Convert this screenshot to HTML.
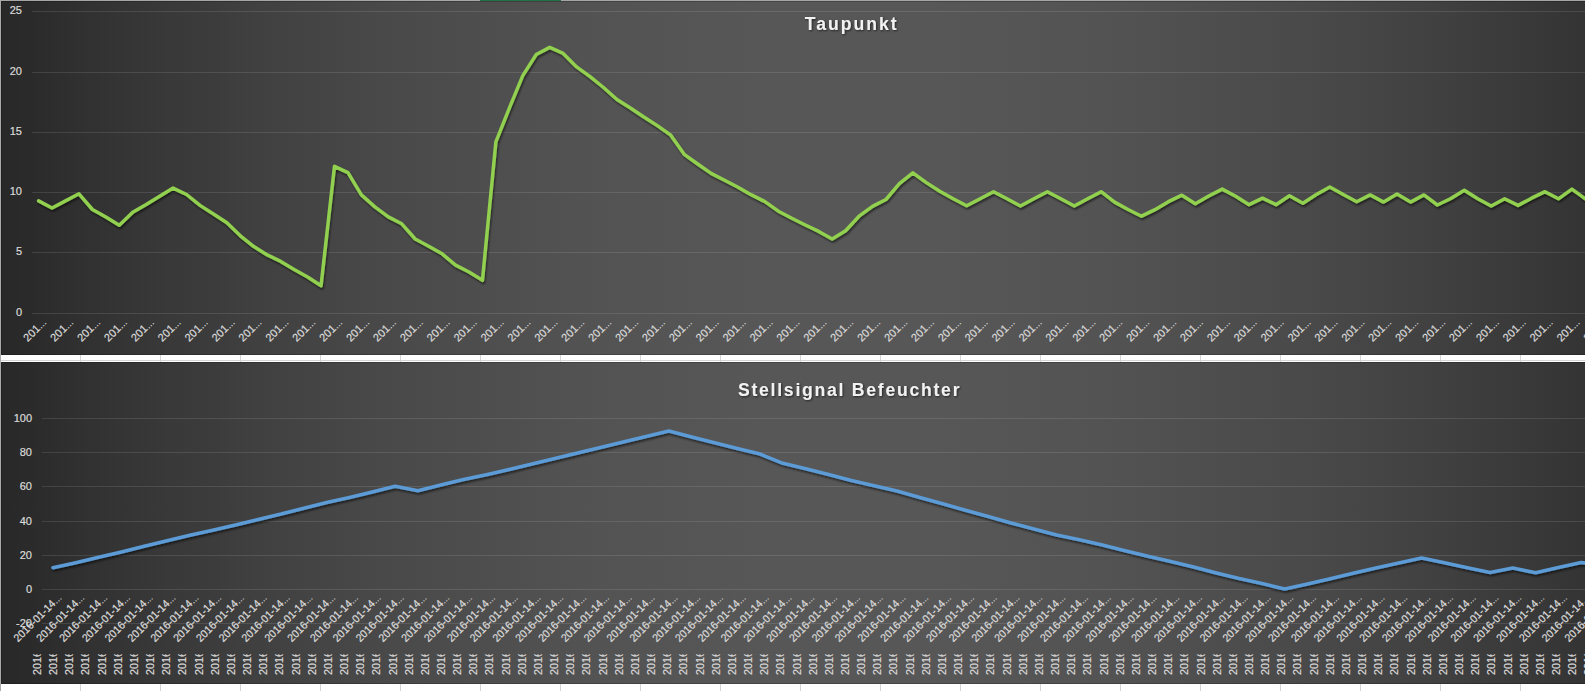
<!DOCTYPE html>
<html><head><meta charset="utf-8"><title>Taupunkt / Stellsignal Befeuchter</title>
<style>
html,body{margin:0;padding:0;background:#fff;}
body{width:1585px;height:691px;overflow:hidden;position:relative;font-family:'Liberation Sans', Arial, sans-serif;}
svg{position:absolute;left:0;top:0;display:block;}
svg text{font-family:'Liberation Sans', Arial, sans-serif;}
</style></head><body>
<svg width="1585" height="691" viewBox="0 0 1585 691">
<defs>
<linearGradient id="bg" gradientUnits="userSpaceOnUse" x1="1" y1="0" x2="1698" y2="0">
<stop offset="0.0000" stop-color="#282828"/>
<stop offset="0.0250" stop-color="#2c2c2c"/>
<stop offset="0.0500" stop-color="#313131"/>
<stop offset="0.0750" stop-color="#353535"/>
<stop offset="0.1000" stop-color="#393939"/>
<stop offset="0.1250" stop-color="#3c3c3c"/>
<stop offset="0.1500" stop-color="#404040"/>
<stop offset="0.1750" stop-color="#434343"/>
<stop offset="0.2000" stop-color="#464646"/>
<stop offset="0.2250" stop-color="#494949"/>
<stop offset="0.2500" stop-color="#4b4b4b"/>
<stop offset="0.2750" stop-color="#4d4d4d"/>
<stop offset="0.3000" stop-color="#4f4f4f"/>
<stop offset="0.3250" stop-color="#515151"/>
<stop offset="0.3500" stop-color="#535353"/>
<stop offset="0.3750" stop-color="#545454"/>
<stop offset="0.4000" stop-color="#555555"/>
<stop offset="0.4250" stop-color="#565656"/>
<stop offset="0.4500" stop-color="#575757"/>
<stop offset="0.4750" stop-color="#575757"/>
<stop offset="0.5000" stop-color="#575757"/>
<stop offset="0.5250" stop-color="#575757"/>
<stop offset="0.5500" stop-color="#575757"/>
<stop offset="0.5750" stop-color="#565656"/>
<stop offset="0.6000" stop-color="#555555"/>
<stop offset="0.6250" stop-color="#545454"/>
<stop offset="0.6500" stop-color="#535353"/>
<stop offset="0.6750" stop-color="#515151"/>
<stop offset="0.7000" stop-color="#4f4f4f"/>
<stop offset="0.7250" stop-color="#4d4d4d"/>
<stop offset="0.7500" stop-color="#4b4b4b"/>
<stop offset="0.7750" stop-color="#494949"/>
<stop offset="0.8000" stop-color="#464646"/>
<stop offset="0.8250" stop-color="#434343"/>
<stop offset="0.8500" stop-color="#404040"/>
<stop offset="0.8750" stop-color="#3c3c3c"/>
<stop offset="0.9000" stop-color="#393939"/>
<stop offset="0.9250" stop-color="#353535"/>
<stop offset="0.9500" stop-color="#313131"/>
<stop offset="0.9750" stop-color="#2c2c2c"/>
<stop offset="1.0000" stop-color="#282828"/>
</linearGradient>
<filter id="sh" x="-5%" y="-20%" width="110%" height="140%">
<feGaussianBlur in="SourceAlpha" stdDeviation="1.2"/>
<feOffset dx="0.8" dy="1.6" result="b"/>
<feComponentTransfer><feFuncA type="linear" slope="0.55"/></feComponentTransfer>
<feMerge><feMergeNode/><feMergeNode in="SourceGraphic"/></feMerge>
</filter>
<filter id="tsh" x="-10%" y="-30%" width="120%" height="160%">
<feGaussianBlur in="SourceAlpha" stdDeviation="0.8"/>
<feOffset dx="0.7" dy="1.2" result="b"/>
<feComponentTransfer><feFuncA type="linear" slope="0.6"/></feComponentTransfer>
<feMerge><feMergeNode/><feMergeNode in="SourceGraphic"/></feMerge>
</filter>
<clipPath id="vclip"><rect x="0" y="654.2" width="1585" height="30"/></clipPath>
</defs>

<rect x="0" y="0" width="1585" height="691" fill="#ffffff"/>
<rect x="80" y="355" width="1" height="7" fill="#d4d4d4"/>
<rect x="80" y="684" width="1" height="7" fill="#d4d4d4"/>
<rect x="160" y="355" width="1" height="7" fill="#d4d4d4"/>
<rect x="160" y="684" width="1" height="7" fill="#d4d4d4"/>
<rect x="240" y="355" width="1" height="7" fill="#d4d4d4"/>
<rect x="240" y="684" width="1" height="7" fill="#d4d4d4"/>
<rect x="320" y="355" width="1" height="7" fill="#d4d4d4"/>
<rect x="320" y="684" width="1" height="7" fill="#d4d4d4"/>
<rect x="400" y="355" width="1" height="7" fill="#d4d4d4"/>
<rect x="400" y="684" width="1" height="7" fill="#d4d4d4"/>
<rect x="480" y="355" width="1" height="7" fill="#d4d4d4"/>
<rect x="480" y="684" width="1" height="7" fill="#d4d4d4"/>
<rect x="560" y="355" width="1" height="7" fill="#d4d4d4"/>
<rect x="560" y="684" width="1" height="7" fill="#d4d4d4"/>
<rect x="640" y="355" width="1" height="7" fill="#d4d4d4"/>
<rect x="640" y="684" width="1" height="7" fill="#d4d4d4"/>
<rect x="720" y="355" width="1" height="7" fill="#d4d4d4"/>
<rect x="720" y="684" width="1" height="7" fill="#d4d4d4"/>
<rect x="800" y="355" width="1" height="7" fill="#d4d4d4"/>
<rect x="800" y="684" width="1" height="7" fill="#d4d4d4"/>
<rect x="880" y="355" width="1" height="7" fill="#d4d4d4"/>
<rect x="880" y="684" width="1" height="7" fill="#d4d4d4"/>
<rect x="960" y="355" width="1" height="7" fill="#d4d4d4"/>
<rect x="960" y="684" width="1" height="7" fill="#d4d4d4"/>
<rect x="1040" y="355" width="1" height="7" fill="#d4d4d4"/>
<rect x="1040" y="684" width="1" height="7" fill="#d4d4d4"/>
<rect x="1120" y="355" width="1" height="7" fill="#d4d4d4"/>
<rect x="1120" y="684" width="1" height="7" fill="#d4d4d4"/>
<rect x="1200" y="355" width="1" height="7" fill="#d4d4d4"/>
<rect x="1200" y="684" width="1" height="7" fill="#d4d4d4"/>
<rect x="1280" y="355" width="1" height="7" fill="#d4d4d4"/>
<rect x="1280" y="684" width="1" height="7" fill="#d4d4d4"/>
<rect x="1360" y="355" width="1" height="7" fill="#d4d4d4"/>
<rect x="1360" y="684" width="1" height="7" fill="#d4d4d4"/>
<rect x="1440" y="355" width="1" height="7" fill="#d4d4d4"/>
<rect x="1440" y="684" width="1" height="7" fill="#d4d4d4"/>
<rect x="1520" y="355" width="1" height="7" fill="#d4d4d4"/>
<rect x="1520" y="684" width="1" height="7" fill="#d4d4d4"/>
<rect x="0" y="360" width="1585" height="1" fill="#d4d4d4"/>
<rect x="1" y="1" width="1585" height="354" fill="url(#bg)"/>
<rect x="1" y="1" width="1585" height="1" fill="#000" fill-opacity="0.2"/>
<rect x="1" y="354" width="1585" height="1" fill="#000" fill-opacity="0.2"/>
<rect x="1" y="2" width="1" height="352" fill="#000" fill-opacity="0.2"/>
<rect x="1" y="362" width="1585" height="322" fill="url(#bg)"/>
<rect x="1" y="362" width="1585" height="1" fill="#000" fill-opacity="0.2"/>
<rect x="1" y="683" width="1585" height="1" fill="#000" fill-opacity="0.2"/>
<rect x="1" y="363" width="1" height="320" fill="#000" fill-opacity="0.2"/>
<rect x="32" y="11" width="1585" height="1" fill="#ffffff" fill-opacity="0.11"/>
<rect x="32" y="72" width="1585" height="1" fill="#ffffff" fill-opacity="0.11"/>
<rect x="32" y="132" width="1585" height="1" fill="#ffffff" fill-opacity="0.11"/>
<rect x="32" y="192" width="1585" height="1" fill="#ffffff" fill-opacity="0.11"/>
<rect x="32" y="252" width="1585" height="1" fill="#ffffff" fill-opacity="0.11"/>
<rect x="32" y="313" width="1585" height="1" fill="#ffffff" fill-opacity="0.11"/>
<rect x="42" y="418" width="1585" height="1" fill="#ffffff" fill-opacity="0.11"/>
<rect x="42" y="452" width="1585" height="1" fill="#ffffff" fill-opacity="0.11"/>
<rect x="42" y="486" width="1585" height="1" fill="#ffffff" fill-opacity="0.11"/>
<rect x="42" y="521" width="1585" height="1" fill="#ffffff" fill-opacity="0.11"/>
<rect x="42" y="555" width="1585" height="1" fill="#ffffff" fill-opacity="0.11"/>
<rect x="42" y="589" width="1585" height="1" fill="#ffffff" fill-opacity="0.11"/>
<rect x="42" y="623" width="1585" height="1" fill="#ffffff" fill-opacity="0.11"/>
<g fill="#dadada" stroke="#dadada" stroke-width="0.2" font-size="11" text-anchor="end">
<text x="22" y="13.9">25</text>
<text x="22" y="74.9">20</text>
<text x="22" y="134.9">15</text>
<text x="22" y="194.9">10</text>
<text x="22" y="254.9">5</text>
<text x="22" y="315.9">0</text>
<text x="32" y="421.9">100</text>
<text x="32" y="455.9">80</text>
<text x="32" y="489.9">60</text>
<text x="32" y="524.9">40</text>
<text x="32" y="558.9">20</text>
<text x="32" y="592.9">0</text>
<text x="32" y="626.9">-20</text>
</g>
<g fill="#dadada" stroke="#dadada" stroke-width="0.2" font-size="11" text-anchor="end">
<text transform="translate(47.20,322.9) rotate(-45)">201<tspan font-size="9">…</tspan></text>
<text transform="translate(74.10,322.9) rotate(-45)">201<tspan font-size="9">…</tspan></text>
<text transform="translate(101.00,322.9) rotate(-45)">201<tspan font-size="9">…</tspan></text>
<text transform="translate(127.90,322.9) rotate(-45)">201<tspan font-size="9">…</tspan></text>
<text transform="translate(154.80,322.9) rotate(-45)">201<tspan font-size="9">…</tspan></text>
<text transform="translate(181.70,322.9) rotate(-45)">201<tspan font-size="9">…</tspan></text>
<text transform="translate(208.60,322.9) rotate(-45)">201<tspan font-size="9">…</tspan></text>
<text transform="translate(235.50,322.9) rotate(-45)">201<tspan font-size="9">…</tspan></text>
<text transform="translate(262.40,322.9) rotate(-45)">201<tspan font-size="9">…</tspan></text>
<text transform="translate(289.30,322.9) rotate(-45)">201<tspan font-size="9">…</tspan></text>
<text transform="translate(316.20,322.9) rotate(-45)">201<tspan font-size="9">…</tspan></text>
<text transform="translate(343.10,322.9) rotate(-45)">201<tspan font-size="9">…</tspan></text>
<text transform="translate(370.00,322.9) rotate(-45)">201<tspan font-size="9">…</tspan></text>
<text transform="translate(396.90,322.9) rotate(-45)">201<tspan font-size="9">…</tspan></text>
<text transform="translate(423.80,322.9) rotate(-45)">201<tspan font-size="9">…</tspan></text>
<text transform="translate(450.70,322.9) rotate(-45)">201<tspan font-size="9">…</tspan></text>
<text transform="translate(477.60,322.9) rotate(-45)">201<tspan font-size="9">…</tspan></text>
<text transform="translate(504.50,322.9) rotate(-45)">201<tspan font-size="9">…</tspan></text>
<text transform="translate(531.40,322.9) rotate(-45)">201<tspan font-size="9">…</tspan></text>
<text transform="translate(558.30,322.9) rotate(-45)">201<tspan font-size="9">…</tspan></text>
<text transform="translate(585.20,322.9) rotate(-45)">201<tspan font-size="9">…</tspan></text>
<text transform="translate(612.10,322.9) rotate(-45)">201<tspan font-size="9">…</tspan></text>
<text transform="translate(639.00,322.9) rotate(-45)">201<tspan font-size="9">…</tspan></text>
<text transform="translate(665.90,322.9) rotate(-45)">201<tspan font-size="9">…</tspan></text>
<text transform="translate(692.80,322.9) rotate(-45)">201<tspan font-size="9">…</tspan></text>
<text transform="translate(719.70,322.9) rotate(-45)">201<tspan font-size="9">…</tspan></text>
<text transform="translate(746.60,322.9) rotate(-45)">201<tspan font-size="9">…</tspan></text>
<text transform="translate(773.50,322.9) rotate(-45)">201<tspan font-size="9">…</tspan></text>
<text transform="translate(800.40,322.9) rotate(-45)">201<tspan font-size="9">…</tspan></text>
<text transform="translate(827.30,322.9) rotate(-45)">201<tspan font-size="9">…</tspan></text>
<text transform="translate(854.20,322.9) rotate(-45)">201<tspan font-size="9">…</tspan></text>
<text transform="translate(881.10,322.9) rotate(-45)">201<tspan font-size="9">…</tspan></text>
<text transform="translate(908.00,322.9) rotate(-45)">201<tspan font-size="9">…</tspan></text>
<text transform="translate(934.90,322.9) rotate(-45)">201<tspan font-size="9">…</tspan></text>
<text transform="translate(961.80,322.9) rotate(-45)">201<tspan font-size="9">…</tspan></text>
<text transform="translate(988.70,322.9) rotate(-45)">201<tspan font-size="9">…</tspan></text>
<text transform="translate(1015.60,322.9) rotate(-45)">201<tspan font-size="9">…</tspan></text>
<text transform="translate(1042.50,322.9) rotate(-45)">201<tspan font-size="9">…</tspan></text>
<text transform="translate(1069.40,322.9) rotate(-45)">201<tspan font-size="9">…</tspan></text>
<text transform="translate(1096.30,322.9) rotate(-45)">201<tspan font-size="9">…</tspan></text>
<text transform="translate(1123.20,322.9) rotate(-45)">201<tspan font-size="9">…</tspan></text>
<text transform="translate(1150.10,322.9) rotate(-45)">201<tspan font-size="9">…</tspan></text>
<text transform="translate(1177.00,322.9) rotate(-45)">201<tspan font-size="9">…</tspan></text>
<text transform="translate(1203.90,322.9) rotate(-45)">201<tspan font-size="9">…</tspan></text>
<text transform="translate(1230.80,322.9) rotate(-45)">201<tspan font-size="9">…</tspan></text>
<text transform="translate(1257.70,322.9) rotate(-45)">201<tspan font-size="9">…</tspan></text>
<text transform="translate(1284.60,322.9) rotate(-45)">201<tspan font-size="9">…</tspan></text>
<text transform="translate(1311.50,322.9) rotate(-45)">201<tspan font-size="9">…</tspan></text>
<text transform="translate(1338.40,322.9) rotate(-45)">201<tspan font-size="9">…</tspan></text>
<text transform="translate(1365.30,322.9) rotate(-45)">201<tspan font-size="9">…</tspan></text>
<text transform="translate(1392.20,322.9) rotate(-45)">201<tspan font-size="9">…</tspan></text>
<text transform="translate(1419.10,322.9) rotate(-45)">201<tspan font-size="9">…</tspan></text>
<text transform="translate(1446.00,322.9) rotate(-45)">201<tspan font-size="9">…</tspan></text>
<text transform="translate(1472.90,322.9) rotate(-45)">201<tspan font-size="9">…</tspan></text>
<text transform="translate(1499.80,322.9) rotate(-45)">201<tspan font-size="9">…</tspan></text>
<text transform="translate(1526.70,322.9) rotate(-45)">201<tspan font-size="9">…</tspan></text>
<text transform="translate(1553.60,322.9) rotate(-45)">201<tspan font-size="9">…</tspan></text>
<text transform="translate(1580.50,322.9) rotate(-45)">201<tspan font-size="9">…</tspan></text>
<text transform="translate(1607.40,322.9) rotate(-45)">201<tspan font-size="9">…</tspan></text>
</g>
<g fill="#dadada" stroke="#dadada" stroke-width="0.2" font-size="11" text-anchor="end">
<text transform="translate(62.40,598.2) rotate(-45) scale(0.963,1)">2016-01-14<tspan font-size="9">…</tspan></text>
<text transform="translate(85.21,598.2) rotate(-45) scale(0.963,1)">2016-01-14<tspan font-size="9">…</tspan></text>
<text transform="translate(108.02,598.2) rotate(-45) scale(0.963,1)">2016-01-14<tspan font-size="9">…</tspan></text>
<text transform="translate(130.83,598.2) rotate(-45) scale(0.963,1)">2016-01-14<tspan font-size="9">…</tspan></text>
<text transform="translate(153.64,598.2) rotate(-45) scale(0.963,1)">2016-01-14<tspan font-size="9">…</tspan></text>
<text transform="translate(176.45,598.2) rotate(-45) scale(0.963,1)">2016-01-14<tspan font-size="9">…</tspan></text>
<text transform="translate(199.26,598.2) rotate(-45) scale(0.963,1)">2016-01-14<tspan font-size="9">…</tspan></text>
<text transform="translate(222.07,598.2) rotate(-45) scale(0.963,1)">2016-01-14<tspan font-size="9">…</tspan></text>
<text transform="translate(244.88,598.2) rotate(-45) scale(0.963,1)">2016-01-14<tspan font-size="9">…</tspan></text>
<text transform="translate(267.69,598.2) rotate(-45) scale(0.963,1)">2016-01-14<tspan font-size="9">…</tspan></text>
<text transform="translate(290.50,598.2) rotate(-45) scale(0.963,1)">2016-01-14<tspan font-size="9">…</tspan></text>
<text transform="translate(313.31,598.2) rotate(-45) scale(0.963,1)">2016-01-14<tspan font-size="9">…</tspan></text>
<text transform="translate(336.12,598.2) rotate(-45) scale(0.963,1)">2016-01-14<tspan font-size="9">…</tspan></text>
<text transform="translate(358.93,598.2) rotate(-45) scale(0.963,1)">2016-01-14<tspan font-size="9">…</tspan></text>
<text transform="translate(381.74,598.2) rotate(-45) scale(0.963,1)">2016-01-14<tspan font-size="9">…</tspan></text>
<text transform="translate(404.55,598.2) rotate(-45) scale(0.963,1)">2016-01-14<tspan font-size="9">…</tspan></text>
<text transform="translate(427.36,598.2) rotate(-45) scale(0.963,1)">2016-01-14<tspan font-size="9">…</tspan></text>
<text transform="translate(450.17,598.2) rotate(-45) scale(0.963,1)">2016-01-14<tspan font-size="9">…</tspan></text>
<text transform="translate(472.98,598.2) rotate(-45) scale(0.963,1)">2016-01-14<tspan font-size="9">…</tspan></text>
<text transform="translate(495.79,598.2) rotate(-45) scale(0.963,1)">2016-01-14<tspan font-size="9">…</tspan></text>
<text transform="translate(518.60,598.2) rotate(-45) scale(0.963,1)">2016-01-14<tspan font-size="9">…</tspan></text>
<text transform="translate(541.41,598.2) rotate(-45) scale(0.963,1)">2016-01-14<tspan font-size="9">…</tspan></text>
<text transform="translate(564.22,598.2) rotate(-45) scale(0.963,1)">2016-01-14<tspan font-size="9">…</tspan></text>
<text transform="translate(587.03,598.2) rotate(-45) scale(0.963,1)">2016-01-14<tspan font-size="9">…</tspan></text>
<text transform="translate(609.84,598.2) rotate(-45) scale(0.963,1)">2016-01-14<tspan font-size="9">…</tspan></text>
<text transform="translate(632.65,598.2) rotate(-45) scale(0.963,1)">2016-01-14<tspan font-size="9">…</tspan></text>
<text transform="translate(655.46,598.2) rotate(-45) scale(0.963,1)">2016-01-14<tspan font-size="9">…</tspan></text>
<text transform="translate(678.27,598.2) rotate(-45) scale(0.963,1)">2016-01-14<tspan font-size="9">…</tspan></text>
<text transform="translate(701.08,598.2) rotate(-45) scale(0.963,1)">2016-01-14<tspan font-size="9">…</tspan></text>
<text transform="translate(723.89,598.2) rotate(-45) scale(0.963,1)">2016-01-14<tspan font-size="9">…</tspan></text>
<text transform="translate(746.70,598.2) rotate(-45) scale(0.963,1)">2016-01-14<tspan font-size="9">…</tspan></text>
<text transform="translate(769.51,598.2) rotate(-45) scale(0.963,1)">2016-01-14<tspan font-size="9">…</tspan></text>
<text transform="translate(792.32,598.2) rotate(-45) scale(0.963,1)">2016-01-14<tspan font-size="9">…</tspan></text>
<text transform="translate(815.13,598.2) rotate(-45) scale(0.963,1)">2016-01-14<tspan font-size="9">…</tspan></text>
<text transform="translate(837.94,598.2) rotate(-45) scale(0.963,1)">2016-01-14<tspan font-size="9">…</tspan></text>
<text transform="translate(860.75,598.2) rotate(-45) scale(0.963,1)">2016-01-14<tspan font-size="9">…</tspan></text>
<text transform="translate(883.56,598.2) rotate(-45) scale(0.963,1)">2016-01-14<tspan font-size="9">…</tspan></text>
<text transform="translate(906.37,598.2) rotate(-45) scale(0.963,1)">2016-01-14<tspan font-size="9">…</tspan></text>
<text transform="translate(929.18,598.2) rotate(-45) scale(0.963,1)">2016-01-14<tspan font-size="9">…</tspan></text>
<text transform="translate(951.99,598.2) rotate(-45) scale(0.963,1)">2016-01-14<tspan font-size="9">…</tspan></text>
<text transform="translate(974.80,598.2) rotate(-45) scale(0.963,1)">2016-01-14<tspan font-size="9">…</tspan></text>
<text transform="translate(997.61,598.2) rotate(-45) scale(0.963,1)">2016-01-14<tspan font-size="9">…</tspan></text>
<text transform="translate(1020.42,598.2) rotate(-45) scale(0.963,1)">2016-01-14<tspan font-size="9">…</tspan></text>
<text transform="translate(1043.23,598.2) rotate(-45) scale(0.963,1)">2016-01-14<tspan font-size="9">…</tspan></text>
<text transform="translate(1066.04,598.2) rotate(-45) scale(0.963,1)">2016-01-14<tspan font-size="9">…</tspan></text>
<text transform="translate(1088.85,598.2) rotate(-45) scale(0.963,1)">2016-01-14<tspan font-size="9">…</tspan></text>
<text transform="translate(1111.66,598.2) rotate(-45) scale(0.963,1)">2016-01-14<tspan font-size="9">…</tspan></text>
<text transform="translate(1134.47,598.2) rotate(-45) scale(0.963,1)">2016-01-14<tspan font-size="9">…</tspan></text>
<text transform="translate(1157.28,598.2) rotate(-45) scale(0.963,1)">2016-01-14<tspan font-size="9">…</tspan></text>
<text transform="translate(1180.09,598.2) rotate(-45) scale(0.963,1)">2016-01-14<tspan font-size="9">…</tspan></text>
<text transform="translate(1202.90,598.2) rotate(-45) scale(0.963,1)">2016-01-14<tspan font-size="9">…</tspan></text>
<text transform="translate(1225.71,598.2) rotate(-45) scale(0.963,1)">2016-01-14<tspan font-size="9">…</tspan></text>
<text transform="translate(1248.52,598.2) rotate(-45) scale(0.963,1)">2016-01-14<tspan font-size="9">…</tspan></text>
<text transform="translate(1271.33,598.2) rotate(-45) scale(0.963,1)">2016-01-14<tspan font-size="9">…</tspan></text>
<text transform="translate(1294.14,598.2) rotate(-45) scale(0.963,1)">2016-01-14<tspan font-size="9">…</tspan></text>
<text transform="translate(1316.95,598.2) rotate(-45) scale(0.963,1)">2016-01-14<tspan font-size="9">…</tspan></text>
<text transform="translate(1339.76,598.2) rotate(-45) scale(0.963,1)">2016-01-14<tspan font-size="9">…</tspan></text>
<text transform="translate(1362.57,598.2) rotate(-45) scale(0.963,1)">2016-01-14<tspan font-size="9">…</tspan></text>
<text transform="translate(1385.38,598.2) rotate(-45) scale(0.963,1)">2016-01-14<tspan font-size="9">…</tspan></text>
<text transform="translate(1408.19,598.2) rotate(-45) scale(0.963,1)">2016-01-14<tspan font-size="9">…</tspan></text>
<text transform="translate(1431.00,598.2) rotate(-45) scale(0.963,1)">2016-01-14<tspan font-size="9">…</tspan></text>
<text transform="translate(1453.81,598.2) rotate(-45) scale(0.963,1)">2016-01-14<tspan font-size="9">…</tspan></text>
<text transform="translate(1476.62,598.2) rotate(-45) scale(0.963,1)">2016-01-14<tspan font-size="9">…</tspan></text>
<text transform="translate(1499.43,598.2) rotate(-45) scale(0.963,1)">2016-01-14<tspan font-size="9">…</tspan></text>
<text transform="translate(1522.24,598.2) rotate(-45) scale(0.963,1)">2016-01-14<tspan font-size="9">…</tspan></text>
<text transform="translate(1545.05,598.2) rotate(-45) scale(0.963,1)">2016-01-14<tspan font-size="9">…</tspan></text>
<text transform="translate(1567.86,598.2) rotate(-45) scale(0.963,1)">2016-01-14<tspan font-size="9">…</tspan></text>
<text transform="translate(1590.67,598.2) rotate(-45) scale(0.963,1)">2016-01-14<tspan font-size="9">…</tspan></text>
<text transform="translate(1613.48,598.2) rotate(-45) scale(0.963,1)">2016-01-14<tspan font-size="9">…</tspan></text>
<text transform="translate(1636.29,598.2) rotate(-45) scale(0.963,1)">2016-01-14<tspan font-size="9">…</tspan></text>
</g>
<g fill="#dadada" stroke="#dadada" stroke-width="0.2" font-size="11.6" clip-path="url(#vclip)">
<text transform="translate(41.00,675.0) rotate(-90) scale(0.93,1)">2016-01-14</text>
<text transform="translate(57.16,675.0) rotate(-90) scale(0.93,1)">2016-01-14</text>
<text transform="translate(73.32,675.0) rotate(-90) scale(0.93,1)">2016-01-14</text>
<text transform="translate(89.48,675.0) rotate(-90) scale(0.93,1)">2016-01-14</text>
<text transform="translate(105.64,675.0) rotate(-90) scale(0.93,1)">2016-01-14</text>
<text transform="translate(121.80,675.0) rotate(-90) scale(0.93,1)">2016-01-14</text>
<text transform="translate(137.96,675.0) rotate(-90) scale(0.93,1)">2016-01-14</text>
<text transform="translate(154.12,675.0) rotate(-90) scale(0.93,1)">2016-01-14</text>
<text transform="translate(170.28,675.0) rotate(-90) scale(0.93,1)">2016-01-14</text>
<text transform="translate(186.44,675.0) rotate(-90) scale(0.93,1)">2016-01-14</text>
<text transform="translate(202.60,675.0) rotate(-90) scale(0.93,1)">2016-01-14</text>
<text transform="translate(218.76,675.0) rotate(-90) scale(0.93,1)">2016-01-14</text>
<text transform="translate(234.92,675.0) rotate(-90) scale(0.93,1)">2016-01-14</text>
<text transform="translate(251.08,675.0) rotate(-90) scale(0.93,1)">2016-01-14</text>
<text transform="translate(267.24,675.0) rotate(-90) scale(0.93,1)">2016-01-14</text>
<text transform="translate(283.40,675.0) rotate(-90) scale(0.93,1)">2016-01-14</text>
<text transform="translate(299.56,675.0) rotate(-90) scale(0.93,1)">2016-01-14</text>
<text transform="translate(315.72,675.0) rotate(-90) scale(0.93,1)">2016-01-14</text>
<text transform="translate(331.88,675.0) rotate(-90) scale(0.93,1)">2016-01-14</text>
<text transform="translate(348.04,675.0) rotate(-90) scale(0.93,1)">2016-01-14</text>
<text transform="translate(364.20,675.0) rotate(-90) scale(0.93,1)">2016-01-14</text>
<text transform="translate(380.36,675.0) rotate(-90) scale(0.93,1)">2016-01-14</text>
<text transform="translate(396.52,675.0) rotate(-90) scale(0.93,1)">2016-01-14</text>
<text transform="translate(412.68,675.0) rotate(-90) scale(0.93,1)">2016-01-14</text>
<text transform="translate(428.84,675.0) rotate(-90) scale(0.93,1)">2016-01-14</text>
<text transform="translate(445.00,675.0) rotate(-90) scale(0.93,1)">2016-01-14</text>
<text transform="translate(461.16,675.0) rotate(-90) scale(0.93,1)">2016-01-14</text>
<text transform="translate(477.32,675.0) rotate(-90) scale(0.93,1)">2016-01-14</text>
<text transform="translate(493.48,675.0) rotate(-90) scale(0.93,1)">2016-01-14</text>
<text transform="translate(509.64,675.0) rotate(-90) scale(0.93,1)">2016-01-14</text>
<text transform="translate(525.80,675.0) rotate(-90) scale(0.93,1)">2016-01-14</text>
<text transform="translate(541.96,675.0) rotate(-90) scale(0.93,1)">2016-01-14</text>
<text transform="translate(558.12,675.0) rotate(-90) scale(0.93,1)">2016-01-14</text>
<text transform="translate(574.28,675.0) rotate(-90) scale(0.93,1)">2016-01-14</text>
<text transform="translate(590.44,675.0) rotate(-90) scale(0.93,1)">2016-01-14</text>
<text transform="translate(606.60,675.0) rotate(-90) scale(0.93,1)">2016-01-14</text>
<text transform="translate(622.76,675.0) rotate(-90) scale(0.93,1)">2016-01-14</text>
<text transform="translate(638.92,675.0) rotate(-90) scale(0.93,1)">2016-01-14</text>
<text transform="translate(655.08,675.0) rotate(-90) scale(0.93,1)">2016-01-14</text>
<text transform="translate(671.24,675.0) rotate(-90) scale(0.93,1)">2016-01-14</text>
<text transform="translate(687.40,675.0) rotate(-90) scale(0.93,1)">2016-01-14</text>
<text transform="translate(703.56,675.0) rotate(-90) scale(0.93,1)">2016-01-14</text>
<text transform="translate(719.72,675.0) rotate(-90) scale(0.93,1)">2016-01-14</text>
<text transform="translate(735.88,675.0) rotate(-90) scale(0.93,1)">2016-01-14</text>
<text transform="translate(752.04,675.0) rotate(-90) scale(0.93,1)">2016-01-14</text>
<text transform="translate(768.20,675.0) rotate(-90) scale(0.93,1)">2016-01-14</text>
<text transform="translate(784.36,675.0) rotate(-90) scale(0.93,1)">2016-01-14</text>
<text transform="translate(800.52,675.0) rotate(-90) scale(0.93,1)">2016-01-14</text>
<text transform="translate(816.68,675.0) rotate(-90) scale(0.93,1)">2016-01-14</text>
<text transform="translate(832.84,675.0) rotate(-90) scale(0.93,1)">2016-01-14</text>
<text transform="translate(849.00,675.0) rotate(-90) scale(0.93,1)">2016-01-14</text>
<text transform="translate(865.16,675.0) rotate(-90) scale(0.93,1)">2016-01-14</text>
<text transform="translate(881.32,675.0) rotate(-90) scale(0.93,1)">2016-01-14</text>
<text transform="translate(897.48,675.0) rotate(-90) scale(0.93,1)">2016-01-14</text>
<text transform="translate(913.64,675.0) rotate(-90) scale(0.93,1)">2016-01-14</text>
<text transform="translate(929.80,675.0) rotate(-90) scale(0.93,1)">2016-01-14</text>
<text transform="translate(945.96,675.0) rotate(-90) scale(0.93,1)">2016-01-14</text>
<text transform="translate(962.12,675.0) rotate(-90) scale(0.93,1)">2016-01-14</text>
<text transform="translate(978.28,675.0) rotate(-90) scale(0.93,1)">2016-01-14</text>
<text transform="translate(994.44,675.0) rotate(-90) scale(0.93,1)">2016-01-14</text>
<text transform="translate(1010.60,675.0) rotate(-90) scale(0.93,1)">2016-01-14</text>
<text transform="translate(1026.76,675.0) rotate(-90) scale(0.93,1)">2016-01-14</text>
<text transform="translate(1042.92,675.0) rotate(-90) scale(0.93,1)">2016-01-14</text>
<text transform="translate(1059.08,675.0) rotate(-90) scale(0.93,1)">2016-01-14</text>
<text transform="translate(1075.24,675.0) rotate(-90) scale(0.93,1)">2016-01-14</text>
<text transform="translate(1091.40,675.0) rotate(-90) scale(0.93,1)">2016-01-14</text>
<text transform="translate(1107.56,675.0) rotate(-90) scale(0.93,1)">2016-01-14</text>
<text transform="translate(1123.72,675.0) rotate(-90) scale(0.93,1)">2016-01-14</text>
<text transform="translate(1139.88,675.0) rotate(-90) scale(0.93,1)">2016-01-14</text>
<text transform="translate(1156.04,675.0) rotate(-90) scale(0.93,1)">2016-01-14</text>
<text transform="translate(1172.20,675.0) rotate(-90) scale(0.93,1)">2016-01-14</text>
<text transform="translate(1188.36,675.0) rotate(-90) scale(0.93,1)">2016-01-14</text>
<text transform="translate(1204.52,675.0) rotate(-90) scale(0.93,1)">2016-01-14</text>
<text transform="translate(1220.68,675.0) rotate(-90) scale(0.93,1)">2016-01-14</text>
<text transform="translate(1236.84,675.0) rotate(-90) scale(0.93,1)">2016-01-14</text>
<text transform="translate(1253.00,675.0) rotate(-90) scale(0.93,1)">2016-01-14</text>
<text transform="translate(1269.16,675.0) rotate(-90) scale(0.93,1)">2016-01-14</text>
<text transform="translate(1285.32,675.0) rotate(-90) scale(0.93,1)">2016-01-14</text>
<text transform="translate(1301.48,675.0) rotate(-90) scale(0.93,1)">2016-01-14</text>
<text transform="translate(1317.64,675.0) rotate(-90) scale(0.93,1)">2016-01-14</text>
<text transform="translate(1333.80,675.0) rotate(-90) scale(0.93,1)">2016-01-14</text>
<text transform="translate(1349.96,675.0) rotate(-90) scale(0.93,1)">2016-01-14</text>
<text transform="translate(1366.12,675.0) rotate(-90) scale(0.93,1)">2016-01-14</text>
<text transform="translate(1382.28,675.0) rotate(-90) scale(0.93,1)">2016-01-14</text>
<text transform="translate(1398.44,675.0) rotate(-90) scale(0.93,1)">2016-01-14</text>
<text transform="translate(1414.60,675.0) rotate(-90) scale(0.93,1)">2016-01-14</text>
<text transform="translate(1430.76,675.0) rotate(-90) scale(0.93,1)">2016-01-14</text>
<text transform="translate(1446.92,675.0) rotate(-90) scale(0.93,1)">2016-01-14</text>
<text transform="translate(1463.08,675.0) rotate(-90) scale(0.93,1)">2016-01-14</text>
<text transform="translate(1479.24,675.0) rotate(-90) scale(0.93,1)">2016-01-14</text>
<text transform="translate(1495.40,675.0) rotate(-90) scale(0.93,1)">2016-01-14</text>
<text transform="translate(1511.56,675.0) rotate(-90) scale(0.93,1)">2016-01-14</text>
<text transform="translate(1527.72,675.0) rotate(-90) scale(0.93,1)">2016-01-14</text>
<text transform="translate(1543.88,675.0) rotate(-90) scale(0.93,1)">2016-01-14</text>
<text transform="translate(1560.04,675.0) rotate(-90) scale(0.93,1)">2016-01-14</text>
<text transform="translate(1576.20,675.0) rotate(-90) scale(0.93,1)">2016-01-14</text>
<text transform="translate(1592.36,675.0) rotate(-90) scale(0.93,1)">2016-01-14</text>
</g>
<polyline points="38.60,200.90 52.05,208.00 65.50,200.90 78.95,193.80 92.40,209.50 105.85,217.10 119.30,225.20 132.75,212.20 146.20,204.50 159.65,196.30 173.10,188.10 186.55,194.50 200.00,205.40 213.45,214.00 226.90,222.70 240.35,235.80 253.80,246.60 267.25,254.90 280.70,261.40 294.15,269.40 307.60,277.00 321.05,285.70 334.50,166.30 347.95,172.60 361.40,194.90 374.85,206.90 388.30,216.90 401.75,223.80 415.20,239.00 428.65,246.20 442.10,253.80 455.55,265.10 469.00,272.00 482.45,280.30 495.90,141.80 509.35,108.20 522.80,75.60 536.25,54.50 549.70,47.40 563.15,53.40 576.60,66.90 590.05,76.70 603.50,87.50 616.95,99.50 630.40,108.00 643.85,117.00 657.30,125.60 670.75,135.20 684.20,154.30 697.65,164.00 711.10,173.40 724.55,180.30 738.00,187.30 751.45,194.90 764.90,201.60 778.35,211.20 791.80,218.30 805.25,225.00 818.70,231.40 832.15,239.00 845.60,230.80 859.05,216.20 872.50,206.40 885.95,199.50 899.40,183.70 912.85,172.80 926.30,182.60 939.75,191.30 953.20,198.80 966.65,205.70 980.10,198.80 993.55,191.70 1007.00,198.80 1020.45,206.00 1033.90,198.80 1047.35,191.70 1060.80,198.80 1074.25,206.00 1087.70,198.80 1101.15,191.70 1114.60,202.10 1128.05,209.50 1141.50,216.20 1154.95,209.70 1168.40,201.70 1181.85,195.20 1195.30,203.80 1208.75,196.00 1222.20,189.10 1235.65,196.20 1249.10,204.70 1262.55,198.20 1276.00,204.70 1289.45,195.80 1302.90,203.20 1316.35,194.50 1329.80,186.90 1343.25,194.50 1356.70,201.70 1370.15,194.90 1383.60,202.10 1397.05,194.10 1410.50,202.10 1423.95,194.90 1437.40,205.00 1450.85,198.50 1464.30,190.20 1477.75,198.80 1491.20,206.00 1504.65,198.80 1518.10,205.40 1531.55,198.20 1545.00,191.70 1558.45,198.80 1571.90,189.10 1585.35,198.80 1598.80,204.00" fill="none" stroke="#92d050" stroke-width="3.5" stroke-linejoin="round" stroke-linecap="round" filter="url(#sh)"/>
<polyline points="53.00,567.70 75.81,562.70 98.62,557.30 121.43,552.00 144.24,546.30 167.05,540.70 189.86,535.30 212.67,530.30 235.48,524.90 258.29,519.40 281.10,514.10 303.91,508.20 326.72,502.50 349.53,497.50 372.34,492.00 395.15,486.20 417.96,490.70 440.77,485.10 463.58,479.60 486.39,474.70 509.20,469.50 532.01,463.90 554.82,458.50 577.63,453.10 600.44,447.50 623.25,441.90 646.06,436.50 668.87,431.10 691.68,437.00 714.49,442.70 737.30,448.40 760.11,454.10 782.92,463.30 805.73,468.80 828.54,474.60 851.35,480.50 874.16,485.70 896.97,491.10 919.78,497.40 942.59,503.80 965.40,510.20 988.21,516.50 1011.02,523.00 1033.83,529.00 1056.64,534.90 1079.45,539.80 1102.26,545.00 1125.07,550.70 1147.88,556.30 1170.69,561.50 1193.50,566.90 1216.31,573.00 1239.12,578.60 1261.93,583.60 1284.74,588.90 1307.55,583.90 1330.36,578.80 1353.17,573.30 1375.98,567.90 1398.79,563.00 1421.60,558.10 1444.41,562.80 1467.22,567.70 1490.03,572.60 1512.84,568.00 1535.65,572.80 1558.46,567.60 1581.27,562.50 1604.08,566.00" fill="none" stroke="#5b9bd5" stroke-width="3.6" stroke-linejoin="round" stroke-linecap="round" filter="url(#sh)"/>
<text x="851.8" y="30" text-anchor="middle" font-size="17.6" font-weight="bold" letter-spacing="2.0" fill="#f2f2f2" filter="url(#tsh)">Taupunkt</text>
<text x="849.6" y="396" text-anchor="middle" font-size="17.6" font-weight="bold" letter-spacing="1.75" fill="#f2f2f2" filter="url(#tsh)">Stellsignal Befeuchter</text>
<rect x="0" y="0" width="1585" height="1" fill="#a6a6a6"/>
<rect x="480" y="0" width="81" height="1" fill="#217346"/>
<rect x="0" y="0" width="1" height="691" fill="#a9a9a9"/>
</svg>
</body></html>
